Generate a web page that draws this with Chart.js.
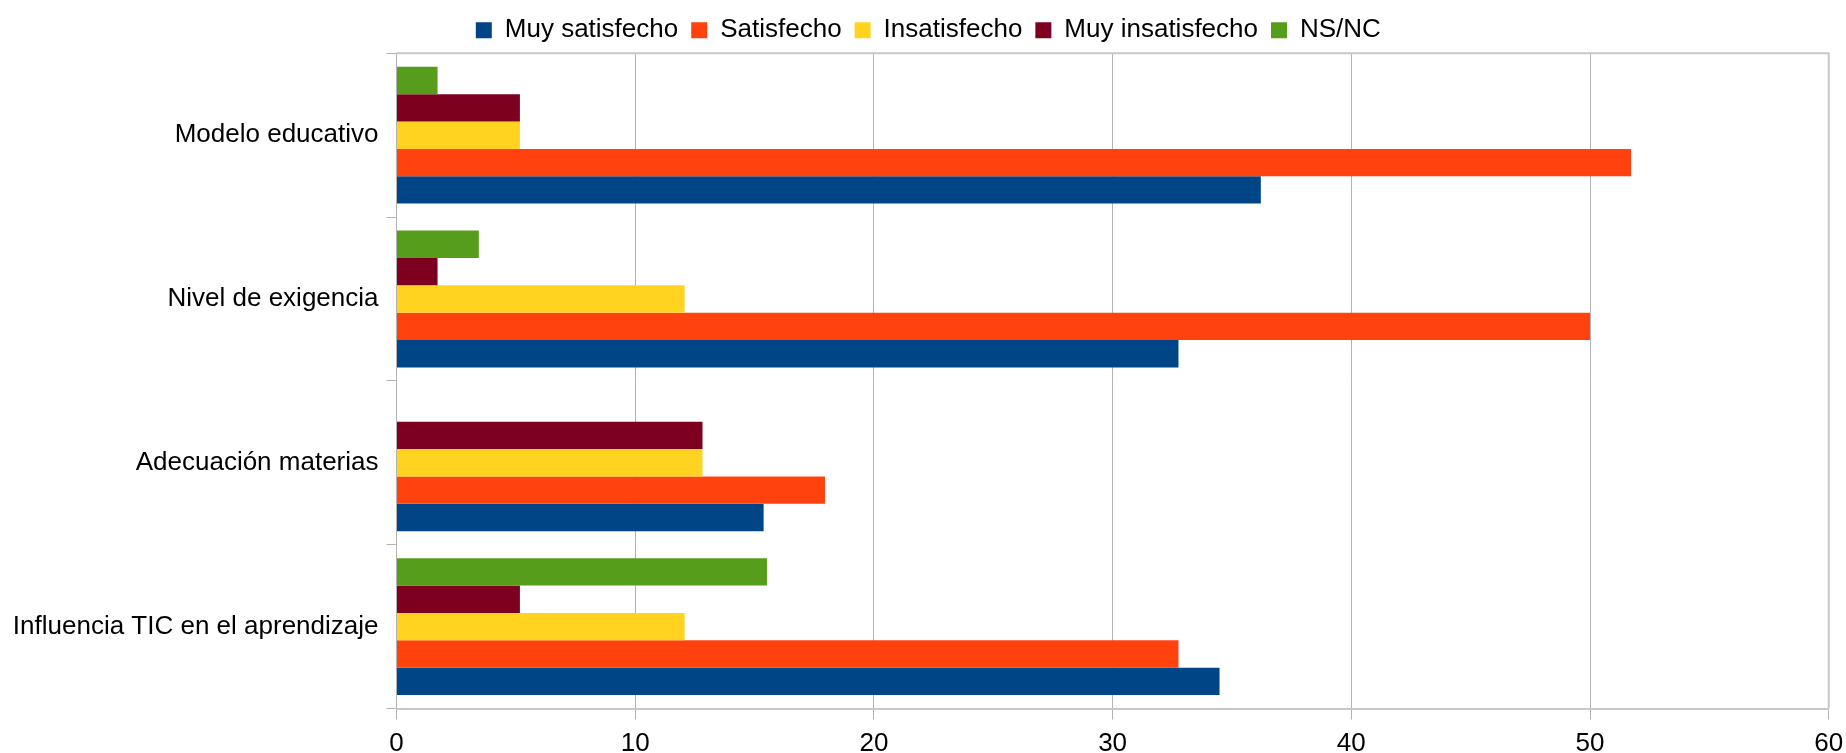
<!DOCTYPE html>
<html>
<head>
<meta charset="utf-8">
<script src="https://cdn.jsdelivr.net/npm/chart.js@4"></script>
<style>
  html, body { margin: 0; padding: 0; background: #ffffff; }
  #wrap { width: 1846px; height: 753px; position: relative; }
</style>
</head>
<body>
<div id="wrap"><canvas id="chart"></canvas></div>
<script>
// categories, top to bottom as in the picture
const categories = ['Modelo educativo', 'Nivel de exigencia', 'Adecuación materias', 'Influencia TIC en el aprendizaje'];

// percentages per series
const muySatisfecho   = [36.21, 32.76, 15.38, 34.48];
const satisfecho      = [51.72, 50.00, 17.95, 32.76];
const insatisfecho    = [5.17, 12.07, 12.82, 12.07];
const muyInsatisfecho = [5.17, 1.72, 12.82, 5.17];
const nsnc            = [1.72, 3.45, 0, 15.52];

const xTicks = [0, 10, 20, 30, 40, 50, 60];

const FONT = "'Liberation Sans', Arial, sans-serif";

// draw top and right border of the plot area (LibreOffice style wall)
const wallBorder = {
  id: 'wallBorder',
  afterLayout(chart) {
    // legend in the original sits a bit right of the page centre
    chart.legend.left += 14;
    chart.legend.right += 14;
  },
  afterDraw(chart) {
    const { ctx, chartArea } = chart;
    ctx.save();
    ctx.strokeStyle = '#c8c8c8';
    ctx.lineWidth = 2;
    ctx.beginPath();
    ctx.moveTo(chartArea.left, chartArea.top);
    ctx.lineTo(chartArea.right, chartArea.top);
    ctx.lineTo(chartArea.right, chartArea.bottom);
    ctx.stroke();
    ctx.restore();
  }
};

// series listed top-to-bottom inside each group; legend shown reversed
const ctx = document.getElementById('chart');
new Chart(ctx, {
  type: 'bar',
  data: {
    labels: categories,
    datasets: [
      { label: 'NS/NC', data: nsnc, backgroundColor: '#579d1c' },
      { label: 'Muy insatisfecho', data: muyInsatisfecho, backgroundColor: '#7e0021' },
      { label: 'Insatisfecho', data: insatisfecho, backgroundColor: '#ffd320' },
      { label: 'Satisfecho', data: satisfecho, backgroundColor: '#ff420e' },
      { label: 'Muy satisfecho', data: muySatisfecho, backgroundColor: '#004586' }
    ]
  },
  options: {
    indexAxis: 'y',
    responsive: true,
    maintainAspectRatio: false,
    animation: false,
    datasets: { bar: { categoryPercentage: 0.835, barPercentage: 1.0, borderWidth: 0 } },
    layout: { padding: { left: 0, right: 17.3, top: 4.3, bottom: 0 } },
    plugins: {
      tooltip: { enabled: false },
      legend: {
        position: 'top',
        reverse: true,
        labels: {
          font: { family: FONT, size: 26 },
          color: '#000000',
          boxWidth: 16,
          boxHeight: 16,
          padding: 13
        }
      }
    },
    scales: {
      x: {
        min: 0,
        max: 60,
        afterBuildTicks(scale) { scale.ticks = xTicks.map(v => ({ value: v })); },
        grid: { color: '#b3b3b3', lineWidth: 1, tickLength: 11 },
        border: { color: '#c8c8c8', width: 2 },
        ticks: { font: { family: FONT, size: 26 }, color: '#000000', padding: 9 },
        afterFit(scale) { scale.height = 44.5; scale.paddingRight = 0; scale.paddingLeft = 0; }
      },
      y: {
        grid: { drawOnChartArea: false, color: '#b3b3b3', tickLength: 10 },
        border: { color: '#b3b3b3', width: 1 },
        ticks: { font: { family: FONT, size: 26 }, color: '#000000', padding: 8 },
        afterFit(scale) { scale.width = 396.5; }
      }
    }
  },
  plugins: [wallBorder]
});
</script>
</body>
</html>
